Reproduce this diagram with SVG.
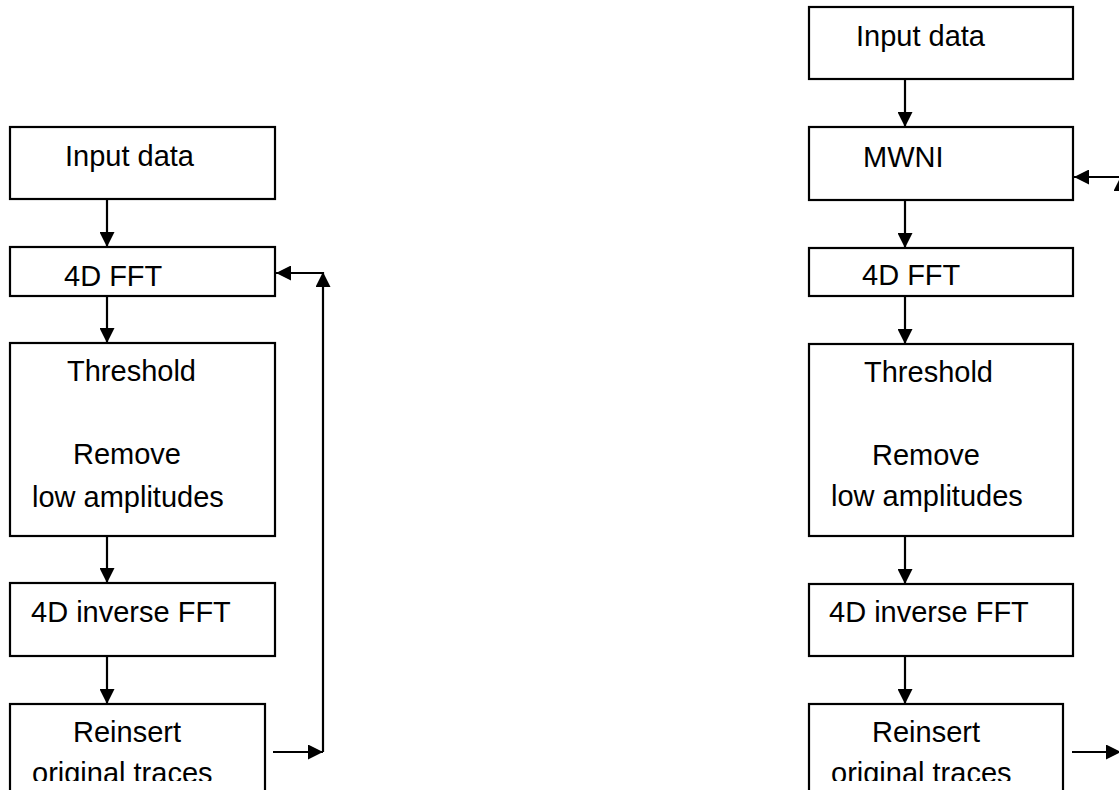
<svg xmlns="http://www.w3.org/2000/svg" width="1119" height="790" viewBox="0 0 1119 790">
<style>
.box{fill:#fff;stroke:#000;stroke-width:2.2}
.t{font-family:"Liberation Sans",Arial,sans-serif;font-size:29px;fill:#000}
.c{stroke:#000;stroke-width:2.2;fill:none}
</style>
<defs>
<marker id="ah" viewBox="0 0 15 15" refX="15" refY="7.5" markerWidth="15" markerHeight="15" markerUnits="userSpaceOnUse" orient="auto">
<path d="M0,0 L15,7.5 L0,15 Z" fill="#000"/>
</marker>
<clipPath id="cut"><rect x="0" y="0" width="1119" height="781"/></clipPath>
</defs>
<rect width="1119" height="790" fill="#fff"/>
<g id="connectors">
<line class="c" x1="107" y1="199" x2="107" y2="247" marker-end="url(#ah)"/>
<line class="c" x1="107" y1="296" x2="107" y2="343" marker-end="url(#ah)"/>
<line class="c" x1="107" y1="536" x2="107" y2="583" marker-end="url(#ah)"/>
<line class="c" x1="107" y1="656" x2="107" y2="704" marker-end="url(#ah)"/>
<line class="c" x1="273" y1="752" x2="323" y2="752" marker-end="url(#ah)"/>
<line class="c" x1="323" y1="752" x2="323" y2="272" marker-end="url(#ah)"/>
<line class="c" x1="323" y1="273" x2="276" y2="273" marker-end="url(#ah)"/>
<line class="c" x1="905" y1="79" x2="905" y2="127" marker-end="url(#ah)"/>
<line class="c" x1="905" y1="200" x2="905" y2="248" marker-end="url(#ah)"/>
<line class="c" x1="905" y1="296" x2="905" y2="344" marker-end="url(#ah)"/>
<line class="c" x1="905" y1="536" x2="905" y2="584" marker-end="url(#ah)"/>
<line class="c" x1="905" y1="656" x2="905" y2="704" marker-end="url(#ah)"/>
<line class="c" x1="1072" y1="752" x2="1121" y2="752" marker-end="url(#ah)"/>
<line class="c" x1="1121" y1="752" x2="1121" y2="176" marker-end="url(#ah)"/>
<line class="c" x1="1121" y1="177" x2="1074" y2="177" marker-end="url(#ah)"/>
</g>
<g id="l-input"><rect class="box" x="10" y="127" width="265" height="72"/><text class="t" x="65" y="166">Input data</text></g>
<g id="l-fft"><rect class="box" x="10" y="247" width="265" height="49"/><text class="t" x="64" y="286">4D FFT</text></g>
<g id="l-threshold"><rect class="box" x="10" y="343" width="265" height="193"/><text class="t" x="67" y="381">Threshold</text><text class="t" x="73" y="464">Remove</text><text class="t" x="32" y="507">low amplitudes</text></g>
<g id="l-ifft"><rect class="box" x="10" y="583" width="265" height="73"/><text class="t" x="31" y="622">4D inverse FFT</text></g>
<g id="l-reinsert"><rect class="box" x="10" y="704" width="255" height="100"/><text class="t" x="73" y="742">Reinsert</text><text class="t" x="32" y="783" clip-path="url(#cut)">original traces</text></g>
<g id="r-input"><rect class="box" x="809" y="7" width="264" height="72"/><text class="t" x="856" y="46">Input data</text></g>
<g id="r-mwni"><rect class="box" x="809" y="127" width="264" height="73"/><text class="t" x="863" y="167">MWNI</text></g>
<g id="r-fft"><rect class="box" x="809" y="248" width="264" height="48"/><text class="t" x="862" y="285">4D FFT</text></g>
<g id="r-threshold"><rect class="box" x="809" y="344" width="264" height="192"/><text class="t" x="864" y="382">Threshold</text><text class="t" x="872" y="465">Remove</text><text class="t" x="831" y="506">low amplitudes</text></g>
<g id="r-ifft"><rect class="box" x="809" y="584" width="264" height="72"/><text class="t" x="829" y="622">4D inverse FFT</text></g>
<g id="r-reinsert"><rect class="box" x="809" y="704" width="254" height="100"/><text class="t" x="872" y="742">Reinsert</text><text class="t" x="831" y="783" clip-path="url(#cut)">original traces</text></g>
</svg>
